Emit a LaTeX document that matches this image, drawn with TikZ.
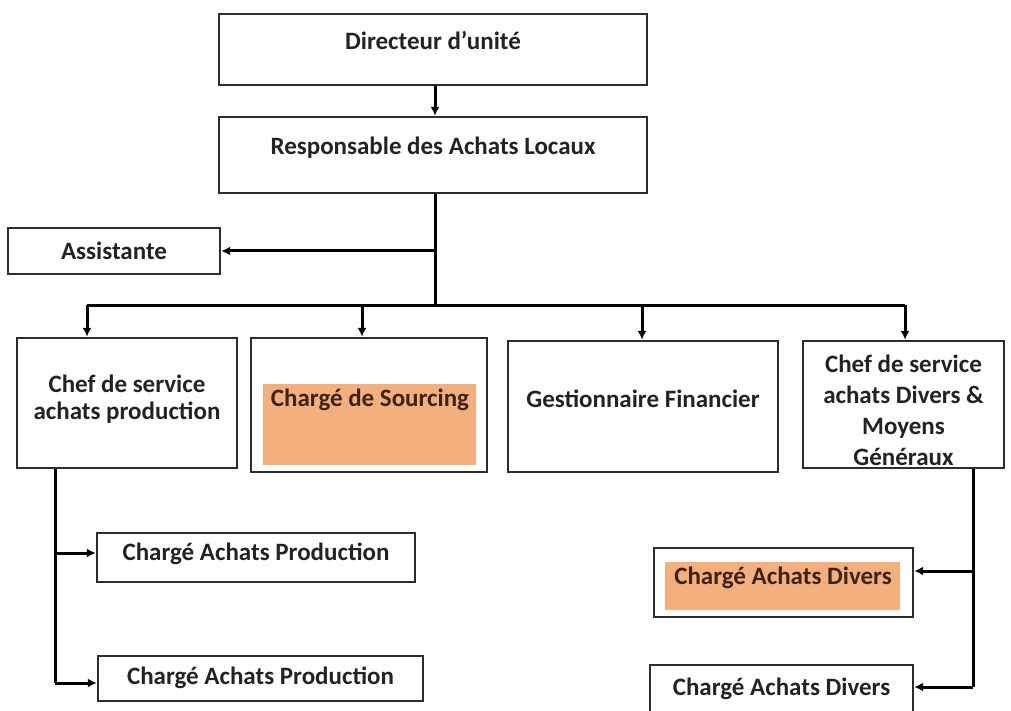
\documentclass[tikz,border=0pt]{standalone}
\usepackage{fontspec}
\setmainfont{Carlito}
\usetikzlibrary{arrows.meta}
\definecolor{boxline}{RGB}{45,45,45}
\definecolor{txt}{RGB}{35,35,35}
\definecolor{warmtxt}{RGB}{62,36,22}
\definecolor{accent}{RGB}{244,175,128}
\begin{document}
\begin{tikzpicture}[x=1pt,y=-1pt,
  box/.style={draw=boxline, line width=2.4pt, inner sep=0pt},
  lbl/.style={font=\bfseries\fontsize{25}{28}\selectfont, text=txt, inner sep=0pt, align=center},
  onaccent/.style={text=warmtxt},
  wire/.style={line width=3pt, draw=black},
  link/.style={wire, -{Latex[length=9pt,width=9pt]}},
  hilite/.style={fill=accent}
]
\clip (0,0) rectangle (1011,711);
\fill[white] (0,0) rectangle (1011,711);

% boxes
\node[box, minimum width=428pt, minimum height=71pt] (dir)  at (433,49.5) {};
\node[box, minimum width=428pt, minimum height=76pt] (resp) at (433,155) {};
\node[box, minimum width=212pt, minimum height=46pt] (asst) at (114,251) {};
\node[box, minimum width=220pt, minimum height=130pt] (prod) at (127,403) {};
\node[box, minimum width=236pt, minimum height=134pt] (src)  at (369,405) {};
\node[box, minimum width=270pt, minimum height=131pt] (fin)  at (643,406.5) {};
\node[box, minimum width=201pt, minimum height=127pt] (div)  at (903.5,404.5) {};
\node[box, minimum width=318pt, minimum height=49pt] (cap1) at (256,557.5) {};
\node[box, minimum width=325pt, minimum height=45pt] (cap2) at (260.5,678.5) {};
\node[box, minimum width=259pt, minimum height=69pt] (cad1) at (783.5,582.5) {};
\node[box, minimum width=263pt, minimum height=52pt] (cad2) at (781.5,691) {};

% highlighted areas
\fill[hilite] (263,384) rectangle (476,465);
\fill[hilite] (665,562) rectangle (900,610);

% labels
\node[lbl, anchor=base] at (433,50)  {Directeur d’unité};
\node[lbl, anchor=base] at (433,155) {Responsable des Achats Locaux};
\node[lbl, anchor=base] at (114,259) {Assistante};
\node[lbl, font=\bfseries\fontsize{25}{27}\selectfont] at (127,399) {Chef de service\\achats production};
\node[lbl, onaccent, anchor=base] at (370,406) {Chargé de Sourcing};
\node[lbl, anchor=base] at (643,407) {Gestionnaire Financier};
\node[lbl, font=\bfseries\fontsize{25}{31}\selectfont] at (903.5,410) {Chef de service\\achats Divers \&\\Moyens\\Généraux};
\node[lbl, anchor=base] at (256,560) {Chargé Achats Production};
\node[lbl, anchor=base] at (260.5,684) {Chargé Achats Production};
\node[lbl, onaccent, anchor=base] at (783,584) {Chargé Achats Divers};
\node[lbl, anchor=base] at (781.5,695) {Chargé Achats Divers};

% junction points
\coordinate (hub) at (435,305);
\coordinate (aj)  at (435,251);
\coordinate (bp)  at (87,305);
\coordinate (bs)  at (362,305);
\coordinate (bf)  at (642,305);
\coordinate (bd)  at (905,305);
\coordinate (p1)  at (55,553);
\coordinate (p2)  at (55,683);
\coordinate (d1)  at (973,571);
\coordinate (d2)  at (973,687);

% connectors
\draw[link] (dir.south -| hub) -- (resp.north -| hub);
\draw[wire] (resp.south -| hub) -- (hub);
\draw[link] (aj) -- (asst.east);
\draw[wire] (bp) -- (bd);
\draw[link] (bp) -- (bp |- prod.north);
\draw[link] (bs) -- (bs |- src.north);
\draw[link] (bf) -- (bf |- fin.north);
\draw[link] (bd) -- (bd |- div.north);
\draw[wire] (prod.south -| p1) -- (p2);
\draw[link] (p1) -- (p1 -| cap1.west);
\draw[link] (p2) -- (p2 -| cap2.west);
\draw[wire] (div.south -| d1) -- (d2);
\draw[link] (d1) -- (d1 -| cad1.east);
\draw[link] (d2) -- (d2 -| cad2.east);
\end{tikzpicture}
\end{document}
